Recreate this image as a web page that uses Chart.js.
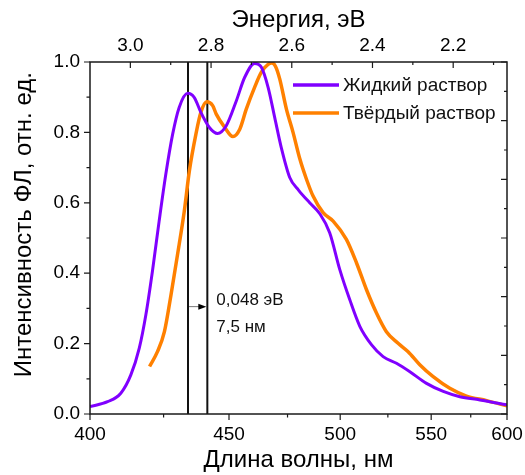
<!DOCTYPE html>
<html lang="ru">
<head>
<meta charset="UTF-8">
<title>Спектры ФЛ</title>
<script src="https://cdn.jsdelivr.net/npm/chart.js"></script>
<style>
  html, body { margin: 0; padding: 0; background: #fff; }
</style>
</head>
<body>
<canvas id="spectra" width="525" height="475"></canvas>
<script>
// длины волн (нм) и интенсивности
const liquidNm  = [400.0, 405.7, 410.1, 413.5, 416.4, 418.7, 421.0, 423.4, 425.8, 428.3, 430.7, 433.9, 436.4, 438.9, 442.2, 445.4, 448.9, 453.0, 456.4, 460.6, 463.5, 466.4, 469.3, 472.2, 476.0, 480.0, 485.2, 490.0, 494.8, 499.8, 504.8, 510.0, 516.1, 522.4, 529.8, 537.4, 547.2, 557.4, 567.9, 581.1, 600.0];
const liquidInt = [0.021, 0.035, 0.059, 0.111, 0.187, 0.282, 0.405, 0.548, 0.681, 0.795, 0.871, 0.911, 0.899, 0.857, 0.814, 0.797, 0.819, 0.890, 0.956, 0.996, 0.985, 0.928, 0.842, 0.757, 0.672, 0.636, 0.600, 0.569, 0.515, 0.410, 0.325, 0.249, 0.197, 0.163, 0.144, 0.120, 0.087, 0.064, 0.049, 0.040, 0.026];

const solidNm  = [420.0, 422.8, 425.3, 427.7, 430.1, 432.6, 434.5, 437.0, 438.9, 441.2, 443.5, 444.9, 448.3, 451.6, 454.4, 457.1, 460.6, 463.5, 466.4, 468.0, 469.6, 471.5, 474.5, 477.5, 480.6, 483.7, 486.8, 491.6, 496.5, 503.1, 508.3, 513.5, 518.8, 524.2, 530.7, 536.4, 543.2, 551.2, 561.5, 572.2, 585.7, 600.0];
const solidInt = [0.135, 0.177, 0.234, 0.339, 0.453, 0.576, 0.690, 0.795, 0.857, 0.887, 0.876, 0.852, 0.814, 0.788, 0.809, 0.866, 0.928, 0.971, 0.993, 0.997, 0.988, 0.952, 0.866, 0.800, 0.725, 0.667, 0.619, 0.572, 0.548, 0.496, 0.429, 0.353, 0.287, 0.234, 0.201, 0.177, 0.140, 0.106, 0.073, 0.051, 0.038, 0.023];

const seriesNames = ['Жидкий раствор', 'Твёрдый раствор'];
const seriesColors = ['#8000ff', '#ff8000'];

const nmTicks = [400, 425, 450, 475, 500, 525, 550, 575, 600];
const evTicks = [3.0, 2.9, 2.8, 2.7, 2.6, 2.5, 2.4, 2.3, 2.2, 2.1];
const peakLinesNm = [434.0, 441.4];
const shiftLabels = ['0,048 эВ', '7,5 нм'];
const shiftArrowY = 0.305;

const HC = 1240; // эВ·нм
const FONT = '"Liberation Sans", Arial, sans-serif';
Chart.defaults.font.family = FONT;
Chart.defaults.color = '#000';

const toPoints = (nm, vals) => nm.map((l, i) => ({ x: HC / l, y: vals[i] }));

// убираем запас под выступающие подписи, размеры осей задаём сами
const fixSize = (w, h) => s => {
  if (w != null) s.width = w;
  if (h != null) s.height = h;
  s.paddingLeft = s.paddingRight = s.paddingTop = s.paddingBottom = 0;
};

const frameAndMarks = {
  id: 'frameAndMarks',
  beforeDatasetsDraw(chart) {
    const { ctx, chartArea: a, scales } = chart;
    ctx.save();
    ctx.strokeStyle = '#111';
    ctx.lineWidth = 2;
    peakLinesNm.forEach(nm => {
      const px = scales.x.getPixelForValue(HC / nm);
      ctx.beginPath();
      ctx.moveTo(px, a.top);
      ctx.lineTo(px, a.bottom);
      ctx.stroke();
    });
    ctx.restore();
  },
  afterDraw(chart) {
    const { ctx, chartArea: a, scales } = chart;
    ctx.save();
    // рамка
    ctx.strokeStyle = '#1a1a1a';
    ctx.lineWidth = 1.5;
    ctx.strokeRect(a.left, a.top, a.right - a.left, a.bottom - a.top);

    // засечки
    ctx.lineWidth = 1.2;
    ctx.beginPath();
    scales.x.ticks.forEach(t => {
      const px = scales.x.getPixelForValue(t.value);
      ctx.moveTo(px, a.bottom);
      ctx.lineTo(px, a.bottom + (t.label ? 6 : 3.5));
    });
    scales.x2.ticks.forEach(t => {
      const px = scales.x2.getPixelForValue(t.value);
      ctx.moveTo(px, a.top);
      ctx.lineTo(px, a.top + (t.label ? 6 : 3));
    });
    scales.y.ticks.forEach(t => {
      const py = scales.y.getPixelForValue(t.value);
      ctx.moveTo(a.left, py);
      ctx.lineTo(a.left - (t.label ? 6 : 3.5), py);
    });
    scales.yR.ticks.forEach((t, i) => {
      const py = scales.yR.getPixelForValue(t.value);
      ctx.moveTo(a.right, py);
      ctx.lineTo(a.right - (i % 2 === 0 ? 6 : 3), py);
    });
    ctx.stroke();

    // стрелка сдвига
    const x1 = scales.x.getPixelForValue(HC / peakLinesNm[0]);
    const x2 = scales.x.getPixelForValue(HC / peakLinesNm[1]);
    const ay = scales.y.getPixelForValue(shiftArrowY);
    ctx.strokeStyle = '#777';
    ctx.lineWidth = 1;
    ctx.beginPath();
    ctx.moveTo(x1 + 1, ay);
    ctx.lineTo(x2 - 7, ay);
    ctx.stroke();
    ctx.fillStyle = '#000';
    ctx.beginPath();
    ctx.moveTo(x2 - 1, ay);
    ctx.lineTo(x2 - 9, ay - 3);
    ctx.lineTo(x2 - 9, ay + 3);
    ctx.closePath();
    ctx.fill();

    ctx.font = '17px ' + FONT;
    ctx.textAlign = 'left';
    ctx.textBaseline = 'alphabetic';
    ctx.fillStyle = '#111';
    ctx.fillText(shiftLabels[0], x2 + 9, ay - 2);
    ctx.fillText(shiftLabels[1], x2 + 9, ay + 25);

    // легенда
    ctx.font = '19px ' + FONT;
    ctx.textBaseline = 'middle';
    seriesNames.forEach((name, i) => {
      const ly = a.top + 23 + i * 28;
      ctx.strokeStyle = seriesColors[i];
      ctx.lineWidth = 3.5;
      ctx.beginPath();
      ctx.moveTo(a.right - 214, ly);
      ctx.lineTo(a.right - 168, ly);
      ctx.stroke();
      ctx.fillStyle = '#111';
      ctx.fillText(name, a.right - 164, ly + 1);
    });
    ctx.restore();
  }
};

new Chart(document.getElementById('spectra'), {
  type: 'line',
  data: {
    datasets: [
      { label: seriesNames[0], data: toPoints(liquidNm, liquidInt), borderColor: seriesColors[0], borderWidth: 3, pointRadius: 0, cubicInterpolationMode: 'monotone', fill: false },
      { label: seriesNames[1], data: toPoints(solidNm, solidInt), borderColor: seriesColors[1], borderWidth: 3.5, pointRadius: 0, cubicInterpolationMode: 'monotone', fill: false }
    ]
  },
  options: {
    responsive: false,
    animation: false,
    layout: { padding: 0 },
    plugins: { legend: { display: false }, tooltip: { enabled: false } },
    scales: {
      x: {
        type: 'linear', position: 'bottom', reverse: true,
        min: HC / 600, max: HC / 400,
        afterBuildTicks: s => { s.ticks = nmTicks.map(nm => ({ value: HC / nm })); },
        afterFit: fixSize(null, 61),
        grid: { display: false, drawTicks: false },
        border: { display: false },
        ticks: {
          autoSkip: false, maxRotation: 0, padding: 9, font: { size: 19 },
          callback: v => { const nm = Math.round(HC / v); return nm % 50 === 0 ? String(nm) : ''; }
        },
        title: { display: true, text: 'Длина волны, нм', font: { size: 24 }, padding: { top: 0, bottom: 0 } }
      },
      x2: {
        type: 'linear', position: 'top', reverse: true,
        min: HC / 600, max: HC / 400,
        afterBuildTicks: s => { s.ticks = evTicks.map(v => ({ value: v })); },
        afterFit: fixSize(null, 62),
        grid: { display: false, drawTicks: false },
        border: { display: false },
        ticks: {
          autoSkip: false, maxRotation: 0, padding: 5, font: { size: 19 },
          callback: v => (Math.round(v * 10) % 2 === 0 ? v.toFixed(1) : '')
        },
        title: { display: true, text: 'Энергия, эВ', font: { size: 24 }, padding: { top: 6, bottom: 0 } }
      },
      y: {
        type: 'linear', position: 'left', min: 0, max: 1,
        afterFit: fixSize(90, null),
        grid: { display: false, drawTicks: false },
        border: { display: false },
        ticks: {
          stepSize: 0.1, autoSkip: false, padding: 10, font: { size: 19 },
          callback: v => (Math.round(v * 10) % 2 === 0 ? v.toFixed(1) : '')
        },
        // ведущие пробелы сдвигают подпись немного вверх, как в оригинале
        title: { display: true, text: '    Интенсивность ФЛ, отн. ед.', font: { size: 24 }, padding: { top: 10, bottom: 0 } }
      },
      yR: {
        type: 'linear', position: 'right', min: 0, max: 1.2,
        afterFit: fixSize(18, null),
        grid: { display: false, drawTicks: false },
        border: { display: false },
        ticks: { stepSize: 0.1, display: false }
      }
    }
  },
  plugins: [frameAndMarks]
});
</script>
</body>
</html>
